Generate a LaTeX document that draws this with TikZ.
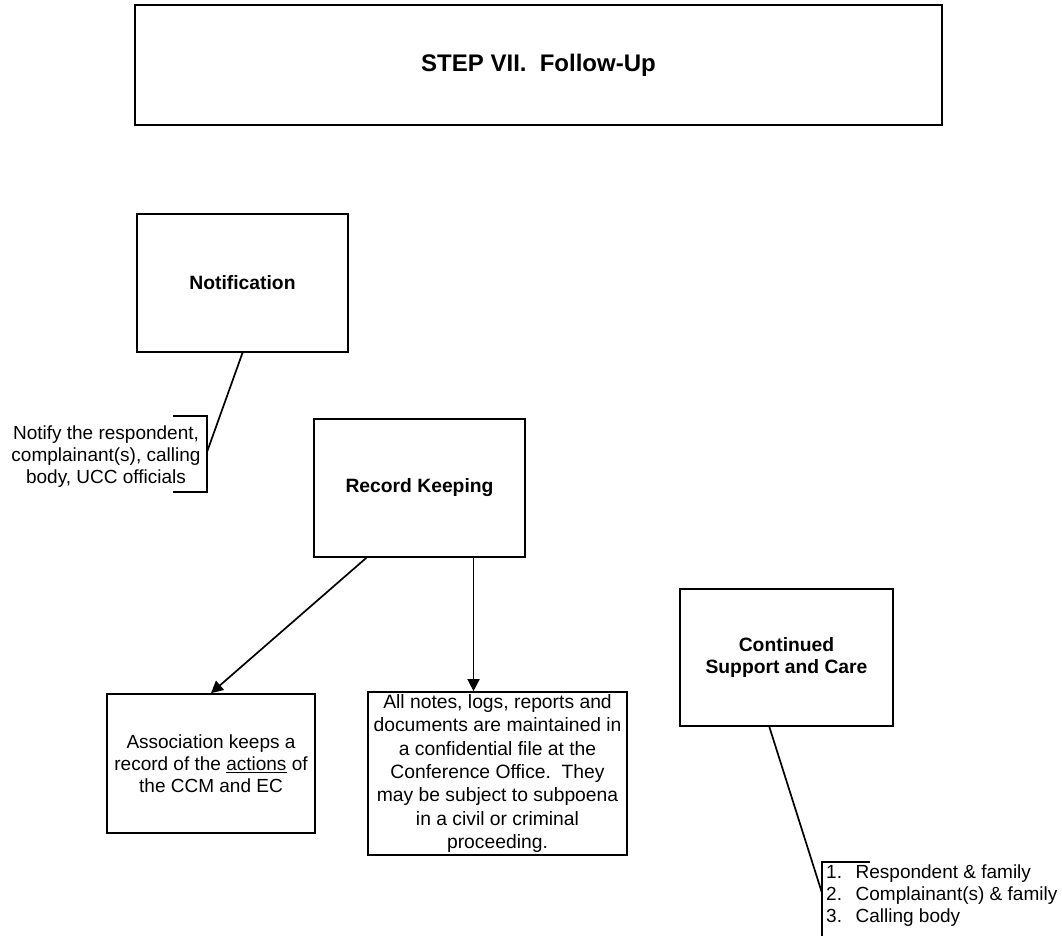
\documentclass[tikz,border=0pt]{standalone}
\usepackage{fontspec}
\setmainfont{Liberation Sans}
\usetikzlibrary{arrows.meta,calc}
\begin{document}
\begin{tikzpicture}[x=1pt,y=-1pt,
  box/.style={draw,line width=1.7pt,inner sep=0pt,align=center},
  body/.style={font=\fontsize{19}{22}\selectfont},
  notesfont/.style={font=\fontsize{19.3}{23.3}\selectfont},
  head/.style={font=\fontsize{19.3}{21.5}\selectfont\bfseries},
  conn/.style={line width=1.7pt},
  arr/.style={conn,-{Triangle[length=12pt,width=12pt]}}]
\useasboundingbox (0,0) rectangle (1062,936);

% title
\node[box,minimum width=807pt,minimum height=120pt,
  font=\fontsize{24}{28}\selectfont\bfseries] (title) at (538.5,65)
  {STEP VII.\hspace{0.55em}Follow-Up};

% main boxes
\node[box,head,minimum width=211pt,minimum height=138pt] (notif) at (242.5,283) {Notification};
\node[box,head,minimum width=211pt,minimum height=138pt] (rec) at (419.5,488) {Record Keeping};
\node[box,head,minimum width=213pt,minimum height=137pt] (cont) at (786.5,657.5) {Continued\\Support and Care};
\node[box,body,minimum width=208pt,minimum height=139pt] (assoc) at (211,763.5)
  {Association keeps a\\record of the \underline{actions} of\\the CCM and EC};
\node[box,notesfont,minimum width=259pt,minimum height=163pt] (notes) at (497.5,773.5)
  {All notes, logs, reports and\\documents are maintained in\\a confidential file at the\\Conference Office.\hspace{0.55em}They\\may be subject to subpoena\\in a civil or criminal\\proceeding.};

% annotation: notify
\node[body,align=center,inner sep=0pt] (notify) at (106,457) {Notify the respondent,\\complainant(s), calling\\body, UCC officials};
\draw[conn] (173,416) -- (207,416) -- (207,492) -- (173,492);
\coordinate (nb) at (207,452);
\draw[conn] (notif.south) -- (nb);

% annotation: list
\node[body,align=left,anchor=west,inner sep=0pt] (list) at (826,896)
  {\makebox[1.55em][l]{1.}Respondent \& family\\
   \makebox[1.55em][l]{2.}Complainant(s) \& family\\
   \makebox[1.55em][l]{3.}Calling body};
\draw[conn] (870,862) -- (822,862) -- (822,942);
\coordinate (lb) at (822,893);
\draw[conn] ($(cont.south west)!0.42!(cont.south east)$) -- (lb);

% arrows
\draw[arr] ($(rec.south west)!0.25!(rec.south east)$) -- (assoc.north);
\coordinate (rs) at ($(rec.south west)!0.754!(rec.south east)$);
\draw[arr] (rs) -- (rs |- notes.north);
\end{tikzpicture}
\end{document}
